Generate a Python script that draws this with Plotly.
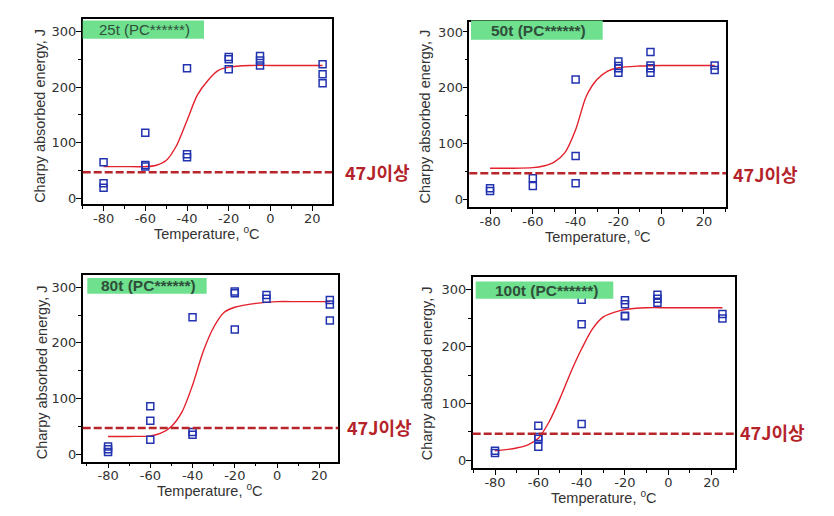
import plotly.graph_objects as go

# ---------------- data ----------------
panel_labels = ["25t (PC******)", "50t (PC******)", "80t (PC******)", "100t (PC******)"]
limit_label = "47J이상"
limit_value = 47

temps_25 = [-80, -80, -80, -60, -60, -60, -40, -40, -40, -20, -20, -20, -5, -5, -5, 25, 25, 25]
energy_25 = [65, 27, 19, 118, 60, 57, 234, 79, 74, 254, 250, 232, 256, 248, 239, 241, 223, 207]
fit_t_25 = [-80, -70, -60, -55, -50, -45, -40, -35, -30, -25, -20, -10, 0, 10, 25]
fit_e_25 = [57, 57, 57, 59, 68, 95, 140, 186, 212, 230, 236, 239, 239, 239, 239]

temps_50 = [-80, -80, -60, -60, -40, -40, -40, -20, -20, -20, -20, -5, -5, -5, -5, 25, 25]
energy_50 = [20, 15, 38, 24, 215, 78, 29, 247, 239, 235, 227, 264, 240, 235, 227, 240, 232]
fit_t_50 = [-80, -70, -60, -55, -50, -45, -40, -35, -30, -25, -20, -10, 0, 10, 25]
fit_e_50 = [56, 56, 57, 60, 67, 84, 125, 185, 215, 230, 236, 239, 240, 240, 240]

temps_80 = [-80, -80, -80, -60, -60, -60, -40, -40, -40, -20, -20, -20, -5, -5, 25, 25, 25]
energy_80 = [14, 9, 4, 86, 60, 26, 246, 40, 35, 292, 289, 224, 286, 279, 277, 269, 240]
fit_t_80 = [-80, -70, -60, -55, -50, -45, -40, -35, -30, -25, -20, -10, 0, 10, 25]
fit_e_80 = [32, 32, 33, 38, 50, 76, 124, 184, 228, 255, 264, 271, 274, 274, 274]

temps_100 = [-80, -80, -60, -60, -60, -60, -40, -40, -40, -20, -20, -20, -20, -5, -5, -5, 25, 25]
energy_100 = [17, 13, 61, 41, 38, 24, 282, 239, 64, 281, 274, 254, 253, 291, 284, 277, 257, 249]
fit_t_100 = [-80, -75, -70, -65, -60, -55, -50, -45, -40, -35, -30, -25, -20, -10, 0, 10, 25]
fit_e_100 = [17, 19, 22, 27, 39, 68, 109, 155, 196, 231, 252, 260, 265, 268, 268, 268, 268]

x_ticks = [-80, -60, -40, -20, 0, 20]
x_tick_text = ["-80", "-60", "-40", "-20", "0", "20"]
y_ticks = [0, 100, 200, 300]
y_tick_text = ["0", "100", "200", "300"]

# ---------------- layout helpers (pixel geometry) ----------------
W, H = 834, 516
panels = [
    dict(l=82.7, r=332.0, t=19.0, b=205.0, xr=[-90, 29.5], yr=[-10.7, 322.7],
         ytitle=(39.3, 116), xtitle=(207, 234), box=(82.7, 204, 20.7, 39), toff=14, bold=False,
         lab=(343, 173)),
    dict(l=469.3, r=726.0, t=22.0, b=208.0, xr=[-89.7, 30.3], yr=[-13.8, 318],
         ytitle=(425, 117), xtitle=(597.5, 236.5), box=(471, 602.7, 20.7, 40), toff=18, bold=True,
         lab=(730.7, 175)),
    dict(l=82.7, r=338.3, t=275.7, b=463.3, xr=[-92, 29], yr=[-13, 322.5],
         ytitle=(41.7, 374), xtitle=(210, 491.5), box=(87.3, 206.7, 279, 295), toff=12, bold=True,
         lab=(345, 429)),
    dict(l=472.7, r=735.0, t=278.3, b=470.0, xr=[-90.3, 30.8], yr=[-13.5, 321.6],
         ytitle=(426.7, 375), xtitle=(604, 499), box=(475.7, 613.3, 282.7, 300), toff=17, bold=True,
         lab=(738, 434)),
]

series = [
    (temps_25, energy_25, fit_t_25, fit_e_25),
    (temps_50, energy_50, fit_t_50, fit_e_50),
    (temps_80, energy_80, fit_t_80, fit_e_80),
    (temps_100, energy_100, fit_t_100, fit_e_100),
]

def px(x):
    return x / W

def py(y):
    return 1 - y / H

FONT = "Arial, Liberation Sans, sans-serif"
TICKFONT = "DejaVu Sans, Verdana, sans-serif"
TXT = "#333333"

fig = go.Figure()
layout = dict(
    width=W, height=H,
    margin=dict(l=0, r=0, t=0, b=0),
    paper_bgcolor="white", plot_bgcolor="white",
    showlegend=False,
    font=dict(family=FONT, color=TXT),
)
shapes, annotations = [], []

for i, (p, (tx, ey, ft, fe)) in enumerate(zip(panels, series)):
    n = "" if i == 0 else str(i + 1)
    xa, ya = "x" + n, "y" + n
    fig.add_trace(go.Scatter(x=ft, y=fe, mode="lines", xaxis=xa, yaxis=ya,
                             line=dict(color="#e3202b", width=1.4, shape="spline", smoothing=0.8),
                             hoverinfo="skip"))
    fig.add_trace(go.Scatter(x=tx, y=ey, mode="markers", xaxis=xa, yaxis=ya,
                             marker=dict(symbol="square-open", size=7, color="#2233b0",
                                         line=dict(width=1.5, color="#2233b0"))))
    axis_common = dict(
        showgrid=False, zeroline=False, showline=True, linecolor="black", linewidth=1.5,
        mirror=True, ticks="outside", ticklen=5, tickwidth=1.2, tickcolor="black",
        tickfont=dict(size=13, color=TXT, family=TICKFONT),
    )
    layout["xaxis" + n] = dict(
        axis_common, domain=[px(p["l"]), px(p["r"])], range=p["xr"], anchor=ya,
        tickvals=x_ticks, ticktext=x_tick_text, ticklabelstandoff=-4,
        minor=dict(dtick=10, tick0=0, ticklen=3, tickcolor="black", ticks="outside"),
    )
    layout["yaxis" + n] = dict(
        axis_common, domain=[py(p["b"]), py(p["t"])], range=p["yr"], anchor=xa,
        tickvals=y_ticks, ticktext=y_tick_text, ticklabelstandoff=-3,
        minor=dict(dtick=50, tick0=0, ticklen=3, tickcolor="black", ticks="outside"),
    )
    shapes.append(dict(type="line", xref=xa + " domain", yref=ya, x0=0, x1=1,
                       y0=limit_value, y1=limit_value,
                       line=dict(color="#b8262b", width=2.5, dash="8px,3px")))
    bx0, bx1, by0, by1 = p["box"]
    shapes.append(dict(type="rect", xref="paper", yref="paper",
                       x0=px(bx0), x1=px(bx1), y0=py(by1), y1=py(by0),
                       fillcolor="#6ee08e", line=dict(width=0), layer="above"))
    lbl = panel_labels[i]
    annotations.append(dict(xref="paper", yref="paper", x=px(bx0 + p["toff"]), y=py((by0 + by1) / 2),
                            xanchor="left", yanchor="middle", showarrow=False,
                            text=("<b>%s</b>" % lbl) if p["bold"] else lbl,
                            font=dict(size=15.5 if p["bold"] else 15, color="#2f4f3a", family=FONT)))
    annotations.append(dict(xref="paper", yref="paper", x=px(p["lab"][0]), y=py(p["lab"][1]),
                            xanchor="left", yanchor="middle", showarrow=False,
                            text="<b>%s</b>" % limit_label,
                            font=dict(size=18, color="#b5232a", family="Noto Sans CJK KR")))
    annotations.append(dict(xref="paper", yref="paper", x=px(p["ytitle"][0]), y=py(p["ytitle"][1]),
                            xanchor="center", yanchor="middle", showarrow=False, textangle=-90,
                            text="Charpy absorbed energy, J",
                            font=dict(size=14.5, color=TXT, family=FONT)))
    annotations.append(dict(xref="paper", yref="paper", x=px(p["xtitle"][0]), y=py(p["xtitle"][1]),
                            xanchor="center", yanchor="middle", showarrow=False,
                            text="Temperature, <sup>o</sup>C",
                            font=dict(size=14.5, color=TXT, family=FONT)))

layout["shapes"] = shapes
layout["annotations"] = annotations
fig.update_layout(**layout)
fig.write_html("out.html", config={"displayModeBar": False},
               post_script="document.body.style.margin='0';document.body.style.padding='0';")
